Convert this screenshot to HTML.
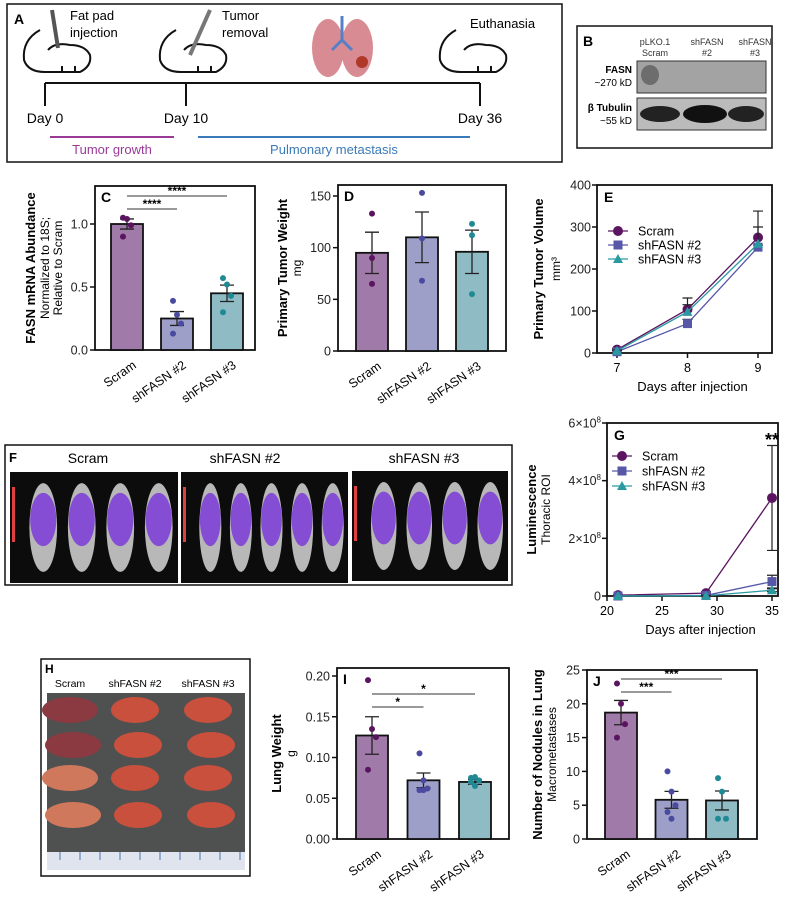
<!DOCTYPE html>
<html><head><meta charset="utf-8"><style>
body{margin:0;background:#fff}
svg{display:block;font-family:"Liberation Sans",sans-serif}
</style></head><body>
<svg id="fig" width="785" height="899" viewBox="0 0 785 899">
<!-- Panel A -->
<g>
<rect x="7" y="4" width="555" height="158" fill="#fff" stroke="#111" stroke-width="1.5"/>
<text x="14" y="24" font-size="14" font-weight="bold">A</text>
<g fill="none" stroke="#111" stroke-width="2">
<path d="M40 30 Q22 40 24 60 Q28 72 45 72 L80 72 Q92 66 90 55 Q85 45 70 45 Q55 42 48 50"/><path d="M62 72 v-6 M75 72 v-6"/>
<path d="M52 10 L58 48" stroke-width="4" stroke="#555"/></g>
<text x="70" y="20" font-size="13">Fat pad</text><text x="70" y="37" font-size="13">injection</text>
<g fill="none" stroke="#111" stroke-width="2">
<path d="M176 30 Q158 40 160 60 Q164 72 181 72 L216 72 Q228 66 226 55 Q221 45 206 45 Q191 42 184 50"/><path d="M198 72 v-6 M211 72 v-6"/>
<path d="M210 10 L190 55" stroke-width="4" stroke="#777"/></g>
<text x="222" y="20" font-size="13">Tumor</text><text x="222" y="37" font-size="13">removal</text>
<g>
<ellipse cx="328" cy="48" rx="16" ry="29" fill="#d98b93"/><ellipse cx="357" cy="48" rx="16" ry="29" fill="#d98b93"/>
<path d="M342 16 V40 M342 40 L332 50 M342 40 L352 50" stroke="#5580c8" stroke-width="3" fill="none"/>
<circle cx="362" cy="62" r="6" fill="#b03828"/></g>
<g fill="none" stroke="#111" stroke-width="2">
<path d="M456 30 Q438 40 440 60 Q444 72 461 72 L496 72 Q508 66 506 55 Q501 45 486 45 Q471 42 464 50"/><path d="M478 72 v-6 M491 72 v-6"/></g>
<text x="470" y="28" font-size="13">Euthanasia</text>
<path d="M45 83 H480 M45 83 V106 M186 83 V106 M480 83 V106" stroke="#111" stroke-width="2" fill="none"/>
<text x="45" y="123" font-size="14" text-anchor="middle">Day 0</text>
<text x="186" y="123" font-size="14" text-anchor="middle">Day 10</text>
<text x="480" y="123" font-size="14" text-anchor="middle">Day 36</text>
<line x1="50" y1="137" x2="174" y2="137" stroke="#9a3a96" stroke-width="2"/>
<line x1="198" y1="137" x2="470" y2="137" stroke="#3a7ab8" stroke-width="2"/>
<text x="112" y="154" font-size="13" fill="#9a3a96" text-anchor="middle">Tumor growth</text>
<text x="334" y="154" font-size="13" fill="#3a7ab8" text-anchor="middle">Pulmonary metastasis</text>
</g>
<!-- Panel B -->
<g>
<rect x="577" y="26" width="195" height="122" fill="#fff" stroke="#111" stroke-width="1.5"/>
<text x="583" y="46" font-size="14" font-weight="bold">B</text>
<text x="655" y="45" font-size="9" text-anchor="middle" fill="#333">pLKO.1</text><text x="655" y="56" font-size="9" text-anchor="middle" fill="#333">Scram</text>
<text x="707" y="45" font-size="9" text-anchor="middle" fill="#333">shFASN</text><text x="707" y="56" font-size="9" text-anchor="middle" fill="#333">#2</text>
<text x="755" y="45" font-size="9" text-anchor="middle" fill="#333">shFASN</text><text x="755" y="56" font-size="9" text-anchor="middle" fill="#333">#3</text>
<rect x="637" y="61" width="129" height="32" fill="#a3a3a3" stroke="#333"/>
<ellipse cx="650" cy="75" rx="9" ry="10" fill="#555" opacity="0.7"/>
<rect x="637" y="98" width="129" height="32" fill="#bbb" stroke="#333"/>
<ellipse cx="660" cy="114" rx="20" ry="8" fill="#222"/><ellipse cx="705" cy="114" rx="22" ry="9" fill="#111"/><ellipse cx="746" cy="114" rx="18" ry="8" fill="#222"/>
<text x="632" y="73" font-size="10" font-weight="bold" text-anchor="end">FASN</text><text x="632" y="86" font-size="10" text-anchor="end">~270 kD</text>
<text x="632" y="111" font-size="10" font-weight="bold" text-anchor="end">β Tubulin</text><text x="632" y="124" font-size="10" text-anchor="end">~55 kD</text>
</g>
<!-- Panel F -->
<g>
<rect x="5" y="445" width="507" height="140" fill="#fff" stroke="#111" stroke-width="1.5"/>
<text x="9" y="462" font-size="13" font-weight="bold">F</text>
<text x="88" y="463" font-size="14" text-anchor="middle">Scram</text>
<text x="245" y="463" font-size="14" text-anchor="middle">shFASN #2</text>
<text x="424" y="463" font-size="14" text-anchor="middle">shFASN #3</text>
<g id="fimgs"></g>
</g>
<!-- Panel H -->
<g>
<rect x="41" y="659" width="209" height="217" fill="#fff" stroke="#111" stroke-width="1.5"/>
<text x="45" y="673" font-size="12" font-weight="bold">H</text>
<text x="70" y="687" font-size="10.5" text-anchor="middle">Scram</text>
<text x="135" y="687" font-size="10.5" text-anchor="middle">shFASN #2</text>
<text x="208" y="687" font-size="10.5" text-anchor="middle">shFASN #3</text>
<rect x="47" y="693" width="198" height="160" fill="#4f5150"/>
<rect x="47" y="852" width="198" height="18" fill="#dfe4ee"/>
<g id="hlungs"></g>
</g>
<g id="charts"></g>
</svg>
<script>
// ---------- data ----------
const groups = ["Scram","shFASN #2","shFASN #3"];
const cMeans = [1.0, 0.25, 0.45];
const cErr = [0.04, 0.055, 0.065];
const cPts = [[1.05,1.04,0.99,0.90],[0.39,0.28,0.21,0.13],[0.57,0.52,0.43,0.30]];
const cTicks = [0, 0.5, 1.0];
const cTickLabels = ["0.0","0.5","1.0"];
const dMeans = [95, 110, 96];
const dErr = [20, 24.5, 21];
const dPts = [[133,90,65],[153,109,68],[123,112,55]];
const dTicks = [0, 50, 100, 150];
const iMeans = [0.127, 0.072, 0.070];
const iErr = [0.023, 0.009, 0.003];
const iPts = [[0.195,0.135,0.125,0.085],[0.105,0.072,0.062,0.060,0.060],[0.075,0.076,0.072,0.070,0.065]];
const iTicks = [0, 0.05, 0.10, 0.15, 0.20];
const iTickLabels = ["0.00","0.05","0.10","0.15","0.20"];
const jMeans = [18.7, 5.8, 5.7];
const jErr = [1.8, 1.25, 1.4];
const jPts = [[23,20,17,15],[10,7,5,4,3],[9,7,3,3]];
const jTicks = [0,5,10,15,20,25];
const eDays = [7,8,9];
const eScram = [8,104,275];
const eSh2 = [3,70,252];
const eSh3 = [5,98,260];
const eScramErr = [3,27,63];
const eSh2Err = [2,10,5];
const eSh3Err = [2,17,40];
const eYTicks = [0,100,200,300,400];
const gDays = [21,29,35];
const gScram = [3e6,1e7,3.4e8];
const gSh2 = [0,2e6,5e7];
const gSh3 = [0,1e6,2e7];
const gScramErr = [2e6,5e6,1.82e8];
const gSh2Err = [0,1e6,2.2e7];
const gSh3Err = [0,1e6,5e6];
const gYTicks = [0,2e8,4e8,6e8];
const gXTicks = [20,25,30,35];

const barFill = ["#a07aa8","#9d9fc9","#8fbcc4"];
const dotCol = ["#5a1460","#4a4aa0","#208a94"];
const lineCol = ["#5a1460","#5757a8","#2a9aa0"];
const NS="http://www.w3.org/2000/svg";
const root=document.getElementById('charts');
function mk(tag,attrs,parent,txt){const e=document.createElementNS(NS,tag);for(const k in attrs)e.setAttribute(k,attrs[k]);if(txt!==undefined)e.textContent=txt;(parent||root).appendChild(e);return e;}

function barPanel(o){
  const g=mk('g',{});
  
  
  const y=v=>o.y0-(v-o.vmin)/(o.vmax-o.vmin)*(o.y0-o.ytop);
  mk('rect',{x:o.x0,y:o.top,width:o.x1-o.x0,height:o.y0-o.top,fill:'none',stroke:'#111','stroke-width':1.8},g);
  mk('text',{x:o.x0+6,y:o.top+16,'font-size':14,'font-weight':'bold'},g,o.letter);
  o.ticks.forEach((t,i)=>{const yy=y(t);mk('line',{x1:o.x0-5,x2:o.x0,y1:yy,y2:yy,stroke:'#111','stroke-width':1.5},g);
    const tl=mk('text',{x:o.x0-7,y:yy+4.5,'font-size':12.5,'text-anchor':'end',fill:'#222'},g,o.tickLabels?o.tickLabels[i]:String(t));
    
    });
  o.means.forEach((m,i)=>{const cx=o.cx0+i*o.step;
    const b=mk('rect',{x:cx-16,y:y(m),width:32,height:o.y0-y(m),fill:barFill[i],stroke:'#111','stroke-width':1.8},g);
    
    
    const e=o.err[i];
    mk('path',{d:`M${cx} ${y(m+e)}V${y(m-e)}M${cx-7} ${y(m+e)}H${cx+7}M${cx-7} ${y(m-e)}H${cx+7}`,stroke:'#222','stroke-width':1.3,fill:'none'},g);
    o.pts[i].forEach((p,k)=>{const n=o.pts[i].length;const dx=n>3?((k%3)-1)*4:0;
      const c=mk('circle',{cx:cx+dx,cy:y(p),r:3,fill:dotCol[i]},g);
      
      });
    const lab=mk('text',{transform:`translate(${cx+10},${o.y0+17}) rotate(-35)`,'font-size':12.5,'text-anchor':'end'},g,groups[i]);
    
    
  });
  o.ylab.forEach((l,i)=>{mk('text',{transform:`translate(${l[0]},${(o.top+o.y0)/2}) rotate(-90)`,'font-size':l[2],'font-weight':l[3]?'bold':'normal','text-anchor':'middle'},g,l[1]);});
  (o.sig||[]).forEach(s=>{const x1=o.cx0+s[0]*o.step,x2=o.cx0+s[1]*o.step;
    mk('line',{x1:x1,x2:x2,y1:s[2],y2:s[2],stroke:'#333','stroke-width':1},g);
    mk('text',{x:(x1+x2)/2,y:s[2]-1,'font-size':12,'text-anchor':'middle','font-weight':'bold'},g,s[3]);});
}
barPanel({name:'panel-c-fasn-mrna',letter:'C',x0:95,x1:255,top:186,y0:350,ytop:224,vmin:0,vmax:1,cx0:127,step:50,means:cMeans,err:cErr,pts:cPts,ticks:cTicks,tickLabels:cTickLabels,
  ylab:[[35,'FASN mRNA Abundance',13,1],[49,'Normalized to 18S;',12],[62,'Relative to Scram',12]],sig:[[0,1,209,'****'],[0,2,196,'****']]});
barPanel({name:'panel-d-tumor-weight',letter:'D',x0:338,x1:506,top:185,y0:351,ytop:196,vmin:0,vmax:150,cx0:372,step:50,means:dMeans,err:dErr,pts:dPts,ticks:dTicks,
  ylab:[[287,'Primary Tumor Weight',13,1],[301,'mg',12]]});
barPanel({name:'panel-i-lung-weight',letter:'I',x0:337,x1:509,top:668,y0:839,ytop:676,vmin:0,vmax:0.2,cx0:372,step:51.5,means:iMeans,err:iErr,pts:iPts,ticks:iTicks,tickLabels:iTickLabels,
  ylab:[[281,'Lung Weight',13,1],[295,'g',12]],sig:[[0,1,707,'*'],[0,2,694,'*']]});
barPanel({name:'panel-j-nodules',letter:'J',x0:587,x1:757,top:670,y0:839,ytop:670,vmin:0,vmax:25,cx0:621,step:50.5,means:jMeans,err:jErr,pts:jPts,ticks:jTicks,
  ylab:[[542,'Number of Nodules in Lung',13,1],[556,'Macrometastases',12]],sig:[[0,1,692,'***'],[0,2,679,'***']]});

function linePanel(o){
  const g=mk('g',{});
  
  
  const X=v=>o.xa+(v-o.xmin)/(o.xmax-o.xmin)*(o.xb-o.xa);
  const Y=v=>o.y0-(v-o.vmin)/(o.vmax-o.vmin)*(o.y0-o.ytop);
  mk('rect',{x:o.x0,y:o.top,width:o.x1-o.x0,height:o.y0-o.top,fill:'none',stroke:'#111','stroke-width':1.8},g);
  mk('text',{x:o.x0+7,y:o.top+17,'font-size':14,'font-weight':'bold'},g,o.letter);
  o.yticks.forEach((t,i)=>{const yy=Y(t);mk('line',{x1:o.x0-5,x2:o.x0,y1:yy,y2:yy,stroke:'#111','stroke-width':1.5},g);
    const tl=mk('text',{x:o.x0-6,y:yy+4.5,'font-size':12.5,'text-anchor':'end',fill:'#222'},g);
    
    
    if(o.sci&&t>0){tl.textContent=(t/1e8)+'×10';mk('tspan',{dy:-5,'font-size':8},tl,'8');}else tl.textContent=String(t);});
  o.xticks.forEach(t=>{const xx=X(t);mk('line',{x1:xx,x2:xx,y1:o.y0,y2:o.y0+5,stroke:'#111','stroke-width':1.5},g);
    const tl=mk('text',{x:xx,y:o.y0+19,'font-size':12.5,'text-anchor':'middle'},g,String(t));
    
    });
  mk('text',{x:(o.x0+o.x1)/2+8,y:o.y0+38,'font-size':13,'text-anchor':'middle'},g,'Days after injection');
  o.ylab.forEach(l=>{mk('text',{transform:`translate(${l[0]},${(o.top+o.y0)/2}) rotate(-90)`,'font-size':l[2],'font-weight':l[3]?'bold':'normal','text-anchor':'middle'},g,l[1]);});
  o.series.forEach((s,si)=>{
    const pl=mk('polyline',{points:o.xs.map((x,i)=>X(x)+','+Y(s[i])).join(' '),fill:'none',stroke:lineCol[si],'stroke-width':1.3},g);
    
    
    o.xs.forEach((x,i)=>{const cx=X(x),cy=Y(s[i]),e=o.errs[si][i];
      const lo=o.twoSided?Y(Math.max(s[i]-e,0)):cy;
      if(e>0)mk('path',{d:`M${cx} ${Y(s[i]+e)}V${lo}M${cx-5} ${Y(s[i]+e)}H${cx+5}`+(o.twoSided?`M${cx-5} ${lo}H${cx+5}`:''),stroke:'#222','stroke-width':1.2,fill:'none'},g);
      marker(g,si,cx,cy);});
  });
  groups.forEach((n,i)=>{const ly=o.legY+i*o.legStep;mk('line',{x1:o.legX-10,x2:o.legX+10,y1:ly,y2:ly,stroke:lineCol[i],'stroke-width':1.3},g);marker(g,i,o.legX,ly);
    mk('text',{x:o.legX+20,y:ly+4.5,'font-size':12.5},g,n);});
  if(o.star)mk('text',{x:X(o.star[0]),y:o.star[1],'font-size':18,'font-weight':'bold','text-anchor':'middle'},g,'**');
}
function marker(g,si,cx,cy){let m;
  if(si===0)m=mk('circle',{cx:cx,cy:cy,r:5,fill:lineCol[0]},g);
  else if(si===1)m=mk('rect',{x:cx-4.5,y:cy-4.5,width:9,height:9,fill:lineCol[1]},g);
  else m=mk('path',{d:`M${cx} ${cy-5}L${cx+5} ${cy+4}L${cx-5} ${cy+4}Z`,fill:lineCol[2]},g);
  
  }
linePanel({name:'panel-e-tumor-volume',letter:'E',x0:597,x1:772,top:185,y0:353,ytop:185,vmin:0,vmax:400,xa:617,xb:758,xmin:7,xmax:9,xs:eDays,
  series:[eScram,eSh2,eSh3],errs:[eScramErr,eSh2Err,eSh3Err],yticks:eYTicks,xticks:eDays,legX:618,legY:231,legStep:14,
  ylab:[[543,'Primary Tumor Volume',13,1],[560,'mm³',12]]});
linePanel({name:'panel-g-luminescence',letter:'G',x0:607,x1:778,top:423,y0:596,ytop:423,vmin:0,vmax:6e8,xa:607,xb:772,xmin:20,xmax:35,xs:gDays,sci:true,twoSided:true,
  series:[gScram,gSh2,gSh3],errs:[gScramErr,gSh2Err,gSh3Err],yticks:gYTicks,xticks:gXTicks,legX:622,legY:456,legStep:15,star:[35,446],
  ylab:[[536,'Luminescence',13,1],[550,'Thoracic ROI',12]]});

// panel F mouse images (decorative)
const fi=document.getElementById('fimgs');
[[10,178,472,583,4],[181,348,472,583,5],[352,508,471,581,4]].forEach(b=>{
  mk('rect',{x:b[0],y:b[2],width:b[1]-b[0],height:b[3]-b[2],fill:'#0c0c0c'},fi);
  const n=b[4],w=(b[1]-b[0]-14)/n;
  for(let k=0;k<n;k++){const cx=b[0]+14+w*(k+0.5);
    mk('ellipse',{cx:cx,cy:(b[2]+b[3])/2,rx:w*0.36,ry:(b[3]-b[2])*0.4,fill:'#b8b8b8'},fi);
    mk('ellipse',{cx:cx,cy:(b[2]+b[3])/2-8,rx:w*0.34,ry:(b[3]-b[2])*0.24,fill:'#7a3ad8',opacity:0.85},fi);}
  mk('rect',{x:b[0]+2,y:b[2]+15,width:3,height:55,fill:'#e04040'},fi);
});
// panel H lungs
const hl=document.getElementById('hlungs');
[70,135,208].forEach((cx,c)=>{[710,745,778,815].forEach((cy,r)=>{
  mk('ellipse',{cx:cx+(r%2?3:0),cy:cy,rx:c?24:28,ry:13,fill:c?'#c8503c':(r<2?'#8a3a40':'#d0785c')},hl);});});
[60,80,100,120,140,160,180,200,220,240].forEach(x=>mk('line',{x1:x,x2:x,y1:852,y2:860,stroke:'#5070b0','stroke-width':1},hl));
</script>
</body></html>
